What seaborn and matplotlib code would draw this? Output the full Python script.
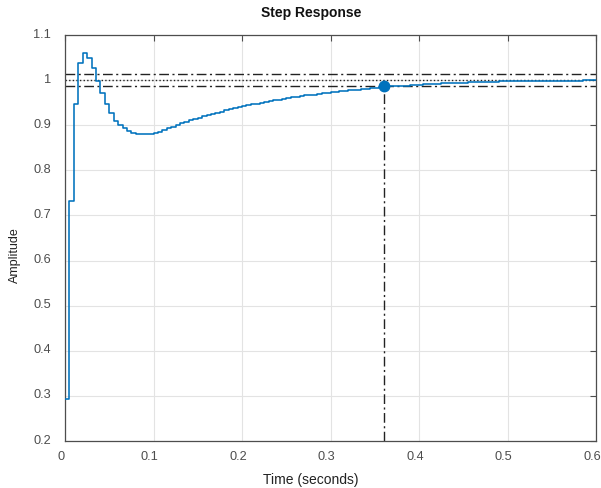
import numpy as np
import pandas as pd
import matplotlib
matplotlib.use("Agg")
import matplotlib.pyplot as plt
import matplotlib.transforms as mtrans
import seaborn as sns

# sample time and step response samples
ts = 0.005
amplitude = [
    0.293, 0.733, 0.948, 1.039, 1.060, 1.049, 1.026, 0.999, 0.972, 0.946,
    0.926, 0.910, 0.900, 0.893, 0.887, 0.883, 0.881, 0.880, 0.880, 0.881,
    0.883, 0.886, 0.890, 0.894, 0.897, 0.901, 0.904, 0.908, 0.911, 0.914,
    0.917, 0.920, 0.923, 0.925, 0.928, 0.930, 0.933, 0.935, 0.938, 0.940,
    0.942, 0.944, 0.946, 0.948, 0.950, 0.952, 0.954, 0.955, 0.957, 0.959,
    0.960, 0.962, 0.963, 0.964, 0.966, 0.967, 0.968, 0.969, 0.971, 0.972,
    0.973, 0.974, 0.975, 0.976, 0.977, 0.978, 0.979, 0.980, 0.981, 0.982,
    0.983, 0.984, 0.985, 0.986, 0.987, 0.987, 0.988, 0.988, 0.989, 0.990,
    0.990, 0.991, 0.991, 0.992, 0.992, 0.993, 0.993, 0.993, 0.994, 0.994,
    0.994, 0.995, 0.995, 0.995, 0.996, 0.996, 0.996, 0.996, 0.997, 0.997,
    0.997, 0.997, 0.997, 0.998, 0.998, 0.998, 0.998, 0.998, 0.998, 0.999,
    0.999, 0.999, 0.999, 0.999, 0.999, 0.999, 0.999, 1.000, 1.000, 1.000,
    1.000,
]
time = [round(i * ts, 3) for i in range(len(amplitude))]

final_value = 1.0
band_low = 0.986
band_high = 1.014
settle_time = 0.36
settle_amp = 0.986

xticks = [0, 0.1, 0.2, 0.3, 0.4, 0.5, 0.6]
xlabels = ["0", "0.1", "0.2", "0.3", "0.4", "0.5", "0.6"]
yticks = [0.2, 0.3, 0.4, 0.5, 0.6, 0.7, 0.8, 0.9, 1, 1.1]
ylabels = ["0.2", "0.3", "0.4", "0.5", "0.6", "0.7", "0.8", "0.9", "1", "1.1"]

df = pd.DataFrame({"Time": time, "Amplitude": amplitude})

sns.set_theme(style="whitegrid")
plt.rcParams["font.family"] = ["Liberation Sans", "DejaVu Sans"]

blue = "#0072BD"
axcol = "#4d4d4d"
dashdot = (0, (7, 2.5, 1.5, 2.5))

fig = plt.figure(figsize=(6.01, 4.88), dpi=100)
ax = fig.add_axes([65 / 601, 1 - 441 / 488, 531 / 601, 406 / 488])

# settling band and final value
ax.axhline(band_high, color="#222222", lw=1.0, ls=dashdot, zorder=2)
ax.axhline(band_low, color="#222222", lw=1.0, ls=dashdot, zorder=2)
ax.axhline(final_value, color="#222222", lw=1.0, ls=(0, (1, 1.6)), zorder=2)
ax.plot([settle_time, settle_time], [0.2, settle_amp], color="#222222", lw=1.0,
        ls=dashdot, zorder=2)

sns.lineplot(data=df, x="Time", y="Amplitude", drawstyle="steps-post",
             color=blue, lw=1.15, ax=ax, zorder=3)
ax.plot([settle_time], [settle_amp], "o", color=blue, ms=7.5, zorder=4)

ax.set_xlim(0, 0.6)
ax.set_ylim(0.2, 1.1)
ax.set_xticks(xticks)
ax.set_xticklabels(xlabels)
ax.set_yticks(yticks)
ax.set_yticklabels(ylabels)

ax.grid(True, color="#e3e3e3", lw=0.8)
ax.set_facecolor("white")
for s in ax.spines.values():
    s.set_color(axcol)
    s.set_linewidth(0.9)
ax.tick_params(direction="in", length=4, width=0.8, color=axcol,
               labelcolor="#4d4d4d", labelsize=9.2, top=True, right=True)
ax.tick_params(axis="x", pad=7)
ax.tick_params(axis="y", pad=10)

# nudge tick labels like the reference
dx = mtrans.ScaledTranslation(-4 / 100, 0, fig.dpi_scale_trans)
for lab in ax.get_xticklabels():
    lab.set_transform(lab.get_transform() + dx)
dy = mtrans.ScaledTranslation(0, 2 / 100, fig.dpi_scale_trans)
for lab in ax.get_yticklabels():
    lab.set_transform(lab.get_transform() + dy)

ax.set_xlabel("")
ax.set_ylabel("")
fig.text(311 / 601, 1 - 13 / 488, "Step Response", fontsize=10, fontweight="bold",
         color="#111111", ha="center", va="center")
fig.text(311 / 601, 1 - 480 / 488, "Time (seconds)", fontsize=10, color="#222222",
         ha="center", va="center")
fig.text(15 / 601, 1 - 255 / 488, "Amplitude", fontsize=9, color="#222222",
         ha="center", va="center", rotation=90)

fig.savefig("out.png", dpi=100, facecolor="white")
